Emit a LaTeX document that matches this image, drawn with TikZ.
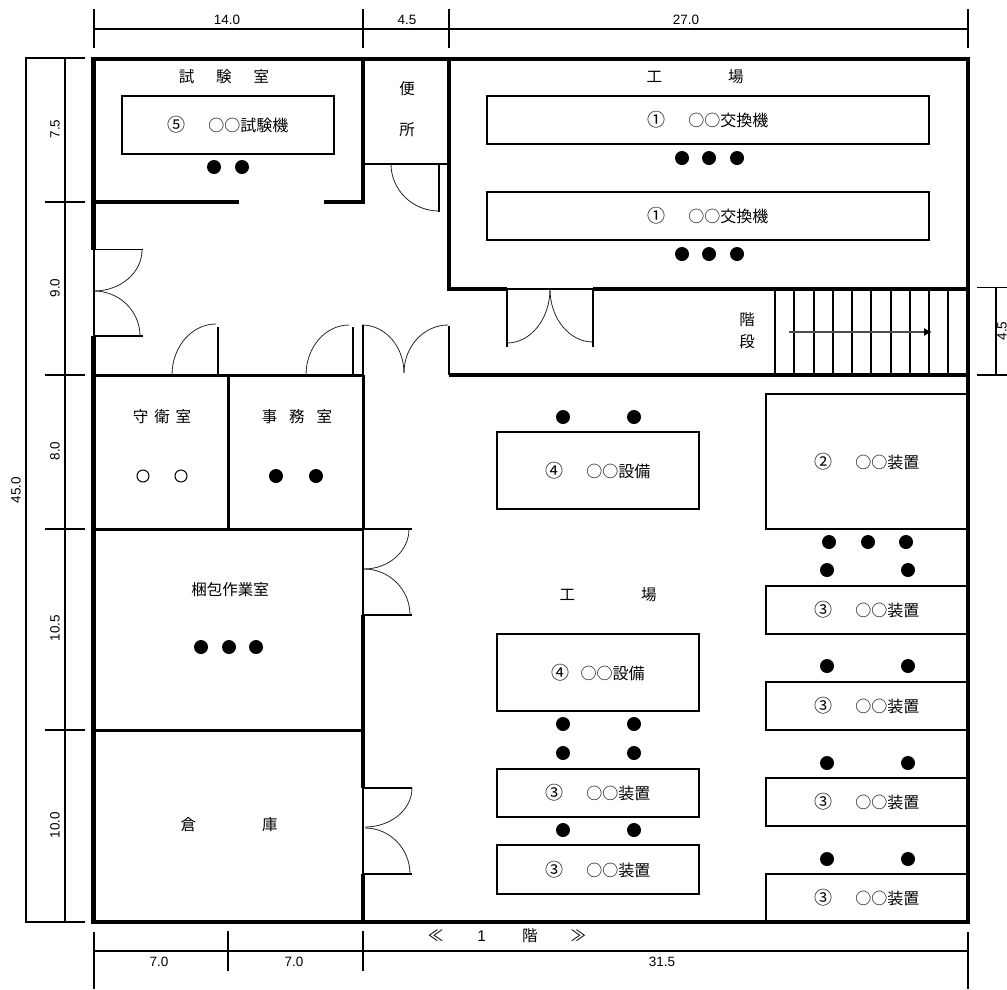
\documentclass[tikz,border=0pt]{standalone}
\usepackage{fontspec}
\usetikzlibrary{arrows.meta}
\setmainfont{Liberation Sans}
\newfontfamily\cjk{Noto Sans CJK JP}
\newcommand{\circnum}[1]{{\fontsize{18}{18}\selectfont #1}}
\tikzset{
    wall/.style={line width=4.5pt},
    partition/.style={line width=3pt},
    frame/.style={line width=1.8pt},
    swing/.style={line width=0.8pt,black!85},
    dim/.style={line width=1.3pt},
    unit/.style={draw,line width=1.8pt,inner sep=0pt,font=\cjk\fontsize{16}{16}\selectfont},
    room/.style={inner sep=0pt,font=\cjk\fontsize{15.5}{16}\selectfont},
    size/.style={inner sep=0pt,font=\fontsize{13.5}{14}\selectfont},
    seat/.style={fill=black},
}
\begin{document}
\begin{tikzpicture}[x=1pt,y=-1pt]
    \useasboundingbox (0,0) rectangle (1007,989);
    \coordinate (nw) at (93.5,59);
    \coordinate (ne) at (968,59);
    \coordinate (se) at (968,922);
    \coordinate (sw) at (93.5,922);
    % dimensions top
    \draw[dim] (94,29) -- (968,29);
    \draw[dim] (94,9) -- (94,48);
    \draw[dim] (363,9) -- (363,48);
    \draw[dim] (449,9) -- (449,48);
    \draw[dim] (968,9) -- (968,48);
    \node[size] (top14) at (227,20) {14.0};
    \node[size] (top45) at (407,20) {4.5};
    \node[size] (top27) at (686,20) {27.0};
    % dimensions left
    \draw[dim] (85,58) -- (26,58) -- (26,922) -- (85,922);
    \draw[dim] (65,58) -- (65,922);
    \draw[dim] (45,202) -- (85,202);
    \draw[dim] (45,375) -- (85,375);
    \draw[dim] (45,529) -- (85,529);
    \draw[dim] (45,730) -- (85,730);
    \node[size,rotate=90] (left75) at (55,129) {7.5};
    \node[size,rotate=90] (left90) at (55,288) {9.0};
    \node[size,rotate=90] (left80) at (55,451) {8.0};
    \node[size,rotate=90] (left105) at (55,628) {10.5};
    \node[size,rotate=90] (left100) at (55,825) {10.0};
    \node[size,rotate=90] (left450) at (16,490) {45.0};
    % dimensions right
    \draw[dim] (1007,287.5) -- (977,287.5);
    \draw[dim] (1007,375) -- (977,375);
    \draw[dim] (996,287.5) -- (996,375);
    \node[size,rotate=90,anchor=base] (right45) at (1006.5,331) {4.5};
    % dimensions bottom
    \draw[dim] (94,951) -- (968,951);
    \draw[dim] (94,932) -- (94,989);
    \draw[dim] (228,931) -- (228,971);
    \draw[dim] (363,931) -- (363,971);
    \draw[dim] (968,932) -- (968,989);
    \node[size] (low70a) at (159,962) {7.0};
    \node[size] (low70b) at (294,962) {7.0};
    \node[size] (low315) at (662,962) {31.5};
    % outer walls
    \draw[wall] (93.5,250) -- (nw) -- (ne) -- (se) -- (sw) -- (93.5,336);
    \draw[frame] (94,250) -- (94,336);
    % test room
    \draw[wall] (363,59) -- (363,202) -- (324,202);
    \draw[wall] (239,202) -- (94,202);
    \draw[frame] (363,164) -- (449,164);
    \draw[frame] (439,164) -- (439,212);
    % factory upper
    \draw[wall] (449,59) -- (449,289) -- (507,289);
    \draw[wall] (593,289) -- (968,289);
    \draw[frame] (507,289) -- (593,289);
    \draw[frame] (507,289) -- (507,347);
    \draw[frame] (593,289) -- (593,347);
    % corridor line
    \draw[partition] (94,375) -- (363,375);
    \draw[line width=4pt] (449,375) -- (968,375);
    \draw[frame] (218,327) -- (218,375);
    \draw[frame] (353,327) -- (353,375);
    \draw[frame] (363,325) -- (363,375);
    \draw[frame] (449,326) -- (449,375);
    % rooms
    \draw[partition] (228,375) -- (228,529);
    \draw[partition] (363,375) -- (363,529);
    \draw[partition] (94,529) -- (363,529);
    \draw[partition] (94,730) -- (363,730);
    \draw[frame] (363,529) -- (363,615);
    \draw[wall] (363,615) -- (363,788);
    \draw[frame] (363,788) -- (363,874);
    \draw[wall] (363,874) -- (363,922);
    % door jambs
    \draw[frame] (94,249.5) -- (143,249.5);
    \draw[frame] (94,336) -- (143,336);
    \draw[frame] (363,529) -- (412,529);
    \draw[frame] (363,615) -- (412,615);
    \draw[frame] (363,788) -- (412,788);
    \draw[frame] (363,874) -- (412,874);
    % door swings
    \draw[swing] (142,250) arc (0:90:48 and 41);
    \draw[swing] (94,291) arc (-90:0:46 and 45);
    \draw[swing] (391,164) arc (180:90:48 and 47);
    \draw[swing] (507,343) arc (90:0:43 and 54);
    \draw[swing] (593,342) arc (90:180:43 and 53);
    \draw[swing] (172,375) arc (180:270:44 and 51);
    \draw[swing] (306,375) arc (180:270:43 and 50);
    \draw[swing] (362,325) arc (-90:0:42 and 48);
    \draw[swing] (448,325) arc (270:180:44 and 48);
    \draw[swing] (409,529) arc (0:90:45 and 40);
    \draw[swing] (364,569) arc (-90:0:46 and 46);
    \draw[swing] (412,788) arc (0:90:47 and 39);
    \draw[swing] (365,828) arc (-90:0:45 and 46);
    % stairs
    \draw[dim] (775,289) -- (775,375);
    \draw[dim] (794,289) -- (794,375);
    \draw[dim] (814,289) -- (814,375);
    \draw[dim] (833,289) -- (833,375);
    \draw[dim] (852,289) -- (852,375);
    \draw[dim] (871,289) -- (871,375);
    \draw[dim] (891,289) -- (891,375);
    \draw[dim] (910,289) -- (910,375);
    \draw[dim] (929,289) -- (929,375);
    \draw[dim] (948,289) -- (948,375);
    \coordinate (stairfrom) at (789,332);
    \coordinate (stairto) at (932,332);
    \draw[line width=1.2pt,black!70,-{Latex[length=8pt,width=8pt,black]}] (stairfrom) -- (stairto);
    % machines
    \node[unit,minimum width=212pt,minimum height=58pt] (test) at (228,125) {\circnum{⑤}\hspace{22.5pt}○○試験機};
    \node[unit,minimum width=442pt,minimum height=48pt] (swapa) at (708,120) {\circnum{①}\hspace{22.5pt}○○交換機};
    \node[unit,minimum width=442pt,minimum height=48pt] (swapb) at (708,216) {\circnum{①}\hspace{22.5pt}○○交換機};
    \node[unit,minimum width=202pt,minimum height=77pt] (equipa) at (598,470.5) {\circnum{④}\hspace{22.5pt}○○設備};
    \node[unit,minimum width=202pt,minimum height=77pt] (equipb) at (598,672.5) {\circnum{④}\hspace{11pt}○○設備};
    \node[unit,minimum width=202pt,minimum height=135pt] (devbig) at (867,461.5) {\circnum{②}\hspace{22.5pt}○○装置};
    \node[unit,minimum width=202pt,minimum height=48pt] (deva) at (867,610) {\circnum{③}\hspace{22.5pt}○○装置};
    \node[unit,minimum width=202pt,minimum height=48pt] (devb) at (867,706) {\circnum{③}\hspace{22.5pt}○○装置};
    \node[unit,minimum width=202pt,minimum height=48pt] (devc) at (867,802) {\circnum{③}\hspace{22.5pt}○○装置};
    \node[unit,minimum width=202pt,minimum height=48pt] (devd) at (867,898) {\circnum{③}\hspace{22.5pt}○○装置};
    \node[unit,minimum width=202pt,minimum height=48pt] (deve) at (598,793) {\circnum{③}\hspace{22.5pt}○○装置};
    \node[unit,minimum width=202pt,minimum height=49pt] (devf) at (598,869.5) {\circnum{③}\hspace{22.5pt}○○装置};
    % rooms labels
    \node[room] (testroom) at (224,77) {試\hspace{22pt}験\hspace{22pt}室};
    \node[room] (factorya) at (695,77) {工\hspace{66pt}場};
    \node[room] (toileta) at (407,89) {便};
    \node[room] (toiletb) at (407,130) {所};
    \node[room] (guard) at (162,417) {守\hspace{6pt}衛\hspace{6pt}室};
    \node[room] (office) at (297,417) {事\hspace{12pt}務\hspace{12pt}室};
    \node[room] (packing) at (230,590) {梱包作業室};
    \node[room] (store) at (229,825) {倉\hspace{66pt}庫};
    \node[room] (factoryb) at (608,595) {工\hspace{66pt}場};
    \node[room] (stepsa) at (747,320) {階};
    \node[room] (stepsb) at (747,342) {段};
    \node[room] (floor) at (507,936) {≪\hspace{34pt}{\fontspec{Liberation Sans}1}\hspace{36pt}階\hspace{33pt}≫};
    % workers
    \fill[seat] (214,167) circle (7);
    \fill[seat] (242,167) circle (7);
    \fill[seat] (682,158) circle (7);
    \fill[seat] (709,158) circle (7);
    \fill[seat] (737,158) circle (7);
    \fill[seat] (682,254) circle (7);
    \fill[seat] (709,254) circle (7);
    \fill[seat] (737,254) circle (7);
    \fill[seat] (563,417) circle (7);
    \fill[seat] (634,417) circle (7);
    \fill[seat] (829,542) circle (7);
    \fill[seat] (868,542) circle (7);
    \fill[seat] (906,542) circle (7);
    \fill[seat] (827,570) circle (7);
    \fill[seat] (908,570) circle (7);
    \fill[seat] (827,666) circle (7);
    \fill[seat] (908,666) circle (7);
    \fill[seat] (827,763) circle (7);
    \fill[seat] (908,763) circle (7);
    \fill[seat] (827,859) circle (7);
    \fill[seat] (908,859) circle (7);
    \fill[seat] (563,724) circle (7);
    \fill[seat] (634,724) circle (7);
    \fill[seat] (563,753) circle (7);
    \fill[seat] (634,753) circle (7);
    \fill[seat] (563,830) circle (7);
    \fill[seat] (634,830) circle (7);
    \fill[seat] (276,476) circle (7);
    \fill[seat] (316,476) circle (7);
    \fill[seat] (201,647) circle (7);
    \fill[seat] (229,647) circle (7);
    \fill[seat] (256,647) circle (7);
    \draw[line width=1pt] (143,476) circle (6);
    \draw[line width=1pt] (181,476) circle (6);
\end{tikzpicture}
\end{document}
